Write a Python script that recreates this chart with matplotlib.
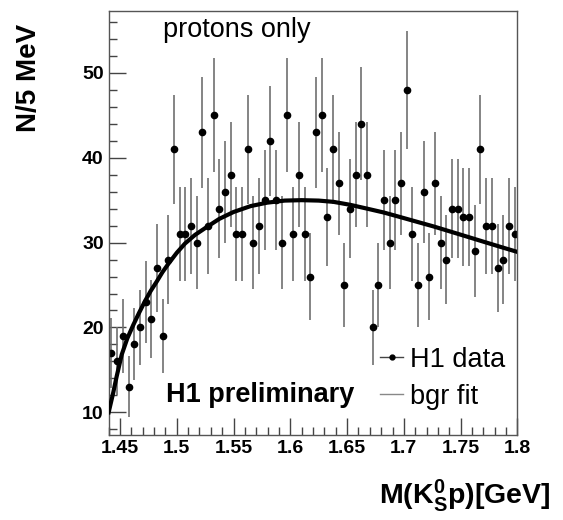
import numpy as np
import matplotlib
matplotlib.use("Agg")
import matplotlib.pyplot as plt
from matplotlib.lines import Line2D
from matplotlib.ticker import MultipleLocator

plt.rcParams['font.family'] = ['Liberation Sans', 'DejaVu Sans']
plt.rcParams['mathtext.fontset'] = 'custom'
plt.rcParams['mathtext.rm'] = 'Liberation Sans:bold'
plt.rcParams['mathtext.it'] = 'Liberation Sans:bold'
plt.rcParams['mathtext.bf'] = 'Liberation Sans:bold'

# histogram: 72 bins of 5 MeV from 1.44 to 1.80 GeV
bin_lo = 1.44
bin_width = 0.005
counts = [17, 16, 19, 13, 18, 20, 23, 21, 27, 19, 28, 41, 31, 31, 32, 30, 43, 32,
          45, 34, 36, 38, 31, 31, 41, 30, 32, 35, 42, 35, 30, 45, 31, 38, 31, 26,
          43, 45, 33, 41, 37, 25, 34, 38, 44, 38, 20, 25, 35, 30, 35, 37, 48, 31,
          25, 36, 26, 37, 30, 28, 34, 34, 33, 33, 29, 41, 32, 32, 27, 28, 32, 31]

# background fit curve
fit_x = [1.4400, 1.4440, 1.4470, 1.4515, 1.4564, 1.4617, 1.4667, 1.4720, 1.4770,
         1.4823, 1.4873, 1.4926, 1.5000, 1.5073, 1.5160, 1.5249, 1.5375, 1.5499,
         1.5650, 1.5793, 1.5950, 1.6100, 1.6250, 1.6381, 1.6528, 1.6660, 1.6822,
         1.6970, 1.7116, 1.7263, 1.7410, 1.7557, 1.7703, 1.7850, 1.8000]
fit_y = [10.0, 12.3, 14.2, 16.8, 18.7, 20.3, 21.7, 23.1, 24.3,
         25.4, 26.5, 27.5, 28.8, 29.9, 30.9, 31.7, 32.8, 33.6,
         34.3, 34.7, 34.95, 35.0, 34.95, 34.8, 34.45, 34.05, 33.55,
         33.0, 32.45, 31.9, 31.3, 30.7, 30.1, 29.5, 28.9]

counts = np.array(counts, dtype=float)
centers = bin_lo + bin_width * (np.arange(len(counts)) + 0.5)
errors = np.sqrt(counts)

fig = plt.figure(figsize=(5.63, 5.2), dpi=100)
ax = fig.add_axes([0.193, 0.163, 0.726, 0.816])

ax.errorbar(centers, counts, yerr=errors, fmt='o', ms=4.5, color='black',
            ecolor='#707070', elinewidth=1.2, capsize=0, zorder=2)
ax.plot(fit_x, fit_y, color='black', lw=3, zorder=3)

ax.set_xlim(1.44, 1.80)
ax.set_ylim(7.3, 57.3)
ax.xaxis.set_minor_locator(MultipleLocator(0.01))
ax.yaxis.set_major_locator(MultipleLocator(10))
ax.yaxis.set_minor_locator(MultipleLocator(2))
ax.set_xticks([1.45, 1.5, 1.55, 1.6, 1.65, 1.7, 1.75, 1.8])
ax.set_xticklabels(['1.45', '1.5', '1.55', '1.6', '1.65', '1.7', '1.75', '1.8'])
ax.tick_params(which='both', direction='in', top=False, right=False,
               labelsize=14, color='#444444')
ax.tick_params(which='major', length=12, width=1)
ax.tick_params(which='minor', length=6, width=1)
for lab in ax.get_xticklabels() + ax.get_yticklabels():
    lab.set_fontweight('bold')
for sp in ax.spines.values():
    sp.set_color('#555555')
    sp.set_linewidth(1)

ax.text(0.133, 0.955, 'protons only', transform=ax.transAxes, fontsize=19.5,
        ha='left', va='center')
ax.text(0.14, 0.094, 'H1 preliminary', transform=ax.transAxes, fontsize=19.5,
        fontweight='bold', ha='left', va='center')

handles = [Line2D([], [], color='#444444', lw=1, marker='o', ms=3.5,
                  markerfacecolor='black', markeredgecolor='black'),
           Line2D([], [], color='#888888', lw=1)]
ax.legend(handles, ['H1 data', 'bgr fit'], loc='lower left',
          bbox_to_anchor=(0.618, 0.015), frameon=False, fontsize=19.5,
          handlelength=0.85, handletextpad=0.25, labelspacing=0.42,
          borderpad=0.2)

fig.text(0.052, 0.85, 'N/5 MeV', rotation=90, fontsize=20, fontweight='bold',
         ha='center', va='center')
fig.text(0.977, 0.046, r'M(K$^{0}_{S}$p)[GeV]', fontsize=20.5, fontweight='bold',
         ha='right', va='center')

plt.savefig('out.png', dpi=100)
